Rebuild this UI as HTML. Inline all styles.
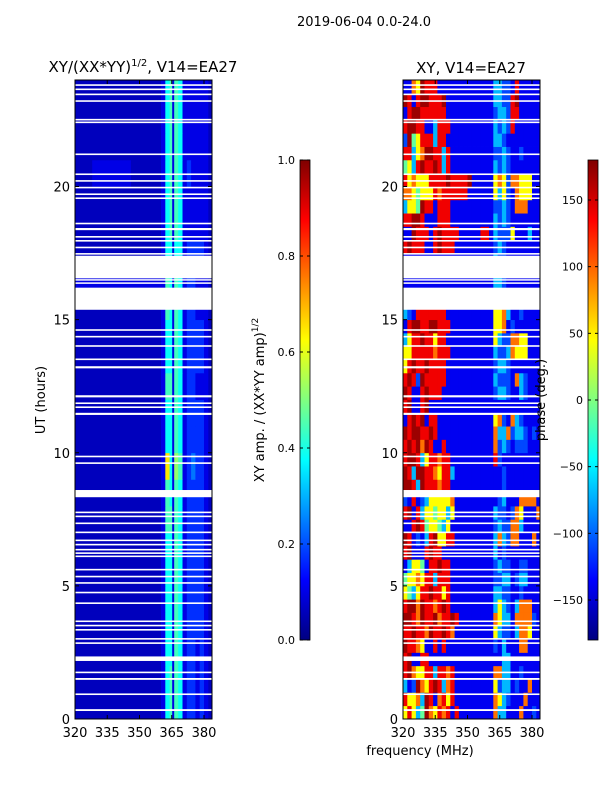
<!DOCTYPE html>
<html><head><meta charset="utf-8"><style>
html,body{margin:0;padding:0;background:#fff}
svg{display:block;font-family:"DejaVu Sans","Liberation Sans",sans-serif}
</style></head><body>
<svg id="fig" width="600" height="800" viewBox="0 0 600 800">
<text x="364" y="26" font-size="13" text-anchor="middle">2019-06-04 0.0-24.0</text>
<text x="143" y="72" font-size="15" text-anchor="middle">XY/(XX*YY)<tspan font-size="10" dy="-6">1/2</tspan><tspan dy="6">, V14=EA27</tspan></text>
<text x="471" y="73" font-size="15" text-anchor="middle">XY, V14=EA27</text>
<text x="45" y="400" font-size="13" text-anchor="middle" transform="rotate(-90 45 400)">UT (hours)</text>
<text x="420" y="755" font-size="13" text-anchor="middle">frequency (MHz)</text>
<text x="264" y="400" font-size="13" text-anchor="middle" transform="rotate(-90 264 400)">XY amp. / (XX*YY amp)<tspan font-size="9" dy="-6">1/2</tspan></text>
<g id="left"></g>
<g id="right"></g>
<g id="cb"></g>
<text x="545" y="400" font-size="13" text-anchor="middle" transform="rotate(-90 545 400)">phase (deg.)</text>
</svg>
<script>
const NS='http://www.w3.org/2000/svg';
// ---- data ----
const freqStart=320, chanWidth=2;
const xTicks=[320,335,350,365,380];
const yTicks=[0,5,10,15,20];
const ampTicks=[0.0,0.2,0.4,0.6,0.8,1.0];
const phaseTicks=[-150,-100,-50,0,50,100,150];
const ampLevels={'0':0.06,'1':0.1,'2':0.17,'3':0.24,'4':0.38,'5':0.44,'6':0.52,'7':0.65};
const phaseLevels={b:-165,B:-140,l:-110,c:-70,g:-10,y:45,o:95,r:140,R:170};
// amplitude rows, 1 hour each from 0h, 32 channels of 2 MHz
const ampRows=[
"00000000000000000000145541221210",
"00000000000000000000145541221210",
"00000000000000000000144541221210",
"00000000000000000000144541222210",
"00000000000000000000144541222210",
"00000000000000000000144541222210",
"00000000000000000000144541222210",
"00000000000000000000155541222210",
"00000000000000000000154541222210",
"00000000000000000000174651232210",
"00000000000000000000144541222210",
"00000000000000000000144541222210",
"00000000000000000000155541221110",
"00000000000000000000144541222210",
"00000000000000000000144541222210",
"00000000000000000000154541221110",
"11111111111111111111154541221110",
"00000000000000000000144441222210",
"00000000000000000000145541111110",
"00000000000000000000145541111110",
"00001111111110000000145541211110",
"00000000000000000000145541111110",
"00000000000000000000145541111110",
"00000000000000000000145541111110"];
// phase rows, 0.5 hour each from 0h
const phaseRows=[
"yrycgRoyrorBr BBBBBBBB occB BBoBBlB","ryyocRrBoryrB BBBBBBBB oycl BBBoBBB",
"cBlRoyrRrcorB BBBBBBBB ylcc BlBBoBB","rRoyyrrcrrorB BBBBBBBB oocc BBlBBBB",
"rRBBrrBBBBBBB BBBBBBBB BBcc BBBBBBB","RrroyBBrBrBBB BBBBBBBB lBcB BBooBBB",
"rrRrroRrrRroB BBBBBBBB ycll BcooyBB","RRroRrrRorrRr BBBBBBBB oycc BoooolB",
"rRRoRrrorRrBB BBBBBBBB cycl BcoooBB","ygcyrrRrryrBB BBBBBBBB ccll BBlBBBB",
"gyyoyrrcrrrBB BBBBBBBB llcc BlccBBB","BcyygBrrRrrBB BBBBBBBB lcll BBllBBB",
"rRBBBrRrrBBBB BBBBBBBB cBlB BBBBBBB","RrBlBcrRyyrrB BBBBBBBB cocl ooBBBoB",
"BBrRrgyygcyBB BBBBBBBB lcll oocBBBB","rRBrcyygyycyB BBBBBBBB cllB loyBBBo",
"lBrBlcyyyyyoB BBBBBBBB BlcB BBooooB","RRrcRrrrorrBB BBBBBBBB BBlB BBBBBBB",
"RrcRRrroyrrcB BBBBBBBB BBlB BBBBBBB","rRRrcyrrorrBB BBBBBBBB rlBB BBBBBBB",
"rRrRoRrBBrBBB BBBBBBBB olcl BlllBBB","RrRRrrRrBBBBB BBBBBBBB occo lcclBlB",
"BrRrRBrrBBBBB BBBBBBBB yolB oclBBBB","rRBBrRBBBBBBB BBBBBBBB BBBB BBBBBBB",
"RrBBrRrrrBBBB BBBBBBBB lccl BBclBBB","rRrlRrrrrrBBB BBBBBBBB clll BoclBBB",
"yrRrrRrrrrBBB BBBBBBBB lccl BBBBBBB","yyrrrrrorrrBB BBBBBBBB cllc oyyyBBB",
"cyrrRrryrrBBB BBBBBBBB ycll ooyyBBB","BrRRrrRRrrrBB BBBBBBBB yyoB lBBBBBB",
"clBrrrrrrrBBB BBBBBBBB yyoc BBlBBBB","BBBBBBBBBBBBB BBBBBBBB cclB BBBBBBB",
"BBBBBBBBBBBBB BBBBBBBB cclB BBBBBBB","BBBBBBBBBBBBB BBBBBBBB cclB BBBBBBB",
"BBBBBBBBBBBBB BBBBBBBB cllB BBBBBBB","rRrrrBBrRrrrB BBBBBBBB lclB BBBBBBB",
"BBRrrrBrRrrrr BBBBBrrB clll yBBBcBB","rrRRrBBBrrrBB BBBBBBBB clcl BBBBBBB",
"cyygRrrBrrrBB BBBBBBBB llcl BoooBBB","ooygyyyrorrrr rrBBBBBB ycyl BoyyyBB",
"ryoyyyrrrrRrr rrRBBBBB yoyl ooyyyBB","gycrRrrRrcrBB BBBBBBBB clcl BBBBBBB",
"rrcyoRRrrcrBB BBBBBBBB llcl BBlBBBB","lRgyrrrcrrBBB BBBBBBBB cclB BBBBBBB",
"rRRrrBBcrrrBB BBBBBBBB clcl rBBBBBB","BrRRrrrrrrBBB BBBBBBBB lccl rrBBBBB",
"RrBrRRrrrRBBB BBBBBBBB ccll rRBBBBB","BBoyRrrrBBBBB BBBBBBBB ccll BrBBBBB"];
// flagged intervals (hours)
const flags=[[0.3,0.37],[0.9,0.96],[1.47,1.54],[1.72,1.78],[2.18,2.35],[2.82,2.88],[2.98,3.04],[3.32,3.38],[3.48,3.54],[3.64,3.7],
[4.32,4.38],[4.72,4.78],[5.08,5.14],[5.32,5.38],[5.58,5.64],[6.08,6.14],[6.2,6.26],[6.33,6.39],[6.52,6.58],[6.68,6.74],[6.98,7.04],
[7.32,7.38],[7.58,7.64],[7.73,7.79],[8.33,8.6],[9.58,9.64],[9.83,9.89],[11.42,11.5],[11.68,11.74],[11.83,11.89],[12.08,12.16],
[13.17,13.25],[13.48,13.54],[13.98,14.04],[14.33,14.39],[14.58,14.64],[15.37,16.2],[16.35,16.4],[16.48,16.52],[16.55,17.4],
[17.44,17.5],[17.68,17.74],[17.93,17.99],[18.08,18.14],[18.36,18.44],[18.58,18.64],[19.53,19.59],[19.68,19.74],[19.93,19.99],
[20.18,20.24],[20.43,20.49],[21.18,21.24],[22.38,22.44],[22.48,22.54],[23.18,23.24],[23.43,23.49],[23.62,23.68],[23.78,23.84]];
// ---- scales ----
const Y0=719, PXH=(719-80)/24;
const yS=h=>Y0-h*PXH;
const panels=[{x0:75,g:'left'},{x0:403,g:'right'}];
const PXF=2.15, W=137;
function jet(x){x=Math.max(0,Math.min(1,x));const c=v=>Math.round(255*Math.max(0,Math.min(1,v)));
 return `rgb(${c(1.5-Math.abs(4*x-3))},${c(1.5-Math.abs(4*x-2))},${c(1.5-Math.abs(4*x-1))})`;}
function mk(tag,attrs,parent){const e=document.createElementNS(NS,tag);for(const k in attrs)e.setAttribute(k,attrs[k]);parent.appendChild(e);return e;}
const svg=document.getElementById('fig');
const defs=mk('defs',{},svg);
panels.forEach((p,pi)=>{
 const cp=mk('clipPath',{id:'clip'+pi},defs);mk('rect',{x:p.x0,y:80,width:W,height:639},cp);
 const g=document.getElementById(p.g);
 const xS=f=>p.x0+(f-freqStart)*PXF;
 const cg=mk('g',{'clip-path':`url(#clip${pi})`},g);
 const rows=pi===0?ampRows:phaseRows.map(s=>s.replace(/ /g,''));
 const rh=24/rows.length;
 rows.forEach((row,ri)=>{
  for(let ci=0;ci<row.length;ci++){
   const ch=row[ci];
   const v=pi===0?ampLevels[ch]:(phaseLevels[ch]+180)/360;
   const r=mk('rect',{x:xS(freqStart+ci*chanWidth).toFixed(2),y:yS((ri+1)*rh).toFixed(2),width:(chanWidth*PXF+0.4).toFixed(2),height:(rh*PXH+0.4).toFixed(2),fill:jet(v)},cg);
   
   
  }
 });
 if(pi===0){const l=mk('rect',{x:xS(365.2),y:80,width:2,height:639,fill:jet(0.1)},cg);
  }
 flags.forEach(f=>{const r=mk('rect',{x:p.x0,y:yS(f[1]).toFixed(2),width:W,height:Math.max(1.5,(f[1]-f[0])*PXH).toFixed(2),fill:'#fff'},cg);
  });
 const fr=mk('rect',{x:p.x0,y:80,width:W,height:639,fill:'none',stroke:'#000','stroke-width':1},g);
 
 xTicks.forEach(t=>{const x=xS(t);
  mk('line',{x1:x,x2:x,y1:719,y2:715,stroke:'#000'},g);mk('line',{x1:x,x2:x,y1:80,y2:84,stroke:'#000'},g);
  const tx=mk('text',{x:x,y:737,'font-size':13,'text-anchor':'middle'},g);tx.textContent=t;
  });
 yTicks.forEach(t=>{const y=yS(t);
  mk('line',{x1:p.x0,x2:p.x0+4,y1:y,y2:y,stroke:'#000'},g);mk('line',{x1:p.x0+W-4,x2:p.x0+W,y1:y,y2:y,stroke:'#000'},g);
  const tx=mk('text',{x:p.x0-5,y:y+5,'font-size':13,'text-anchor':'end'},g);tx.textContent=t;
  });
});
// colorbars
const cb=document.getElementById('cb');
const grad=mk('linearGradient',{id:'jetg',x1:0,y1:1,x2:0,y2:0},defs);
for(let i=0;i<=8;i++)mk('stop',{offset:i/8,'stop-color':jet(i/8)},grad);
[{x:300,ticks:ampTicks,lo:0,hi:1,fmt:v=>v.toFixed(1),lx:295,n:'amp'},{x:588,ticks:phaseTicks,lo:-180,hi:180,fmt:v=>String(v).replace('-','\u2212'),lx:583,n:'phase'}].forEach(c=>{
 const r=mk('rect',{x:c.x,y:160,width:10,height:480,fill:'url(#jetg)',stroke:'#000','stroke-width':0.8},cb);
 
 c.ticks.forEach(t=>{const y=640-(t-c.lo)/(c.hi-c.lo)*480;
  mk('line',{x1:c.x,x2:c.x+3,y1:y,y2:y,stroke:'#000'},cb);mk('line',{x1:c.x+7,x2:c.x+10,y1:y,y2:y,stroke:'#000'},cb);
  const tx=mk('text',{x:c.lx,y:y+4,'font-size':11,'text-anchor':'end'},cb);tx.textContent=c.fmt(t);
  });
});
</script>
</body></html>
